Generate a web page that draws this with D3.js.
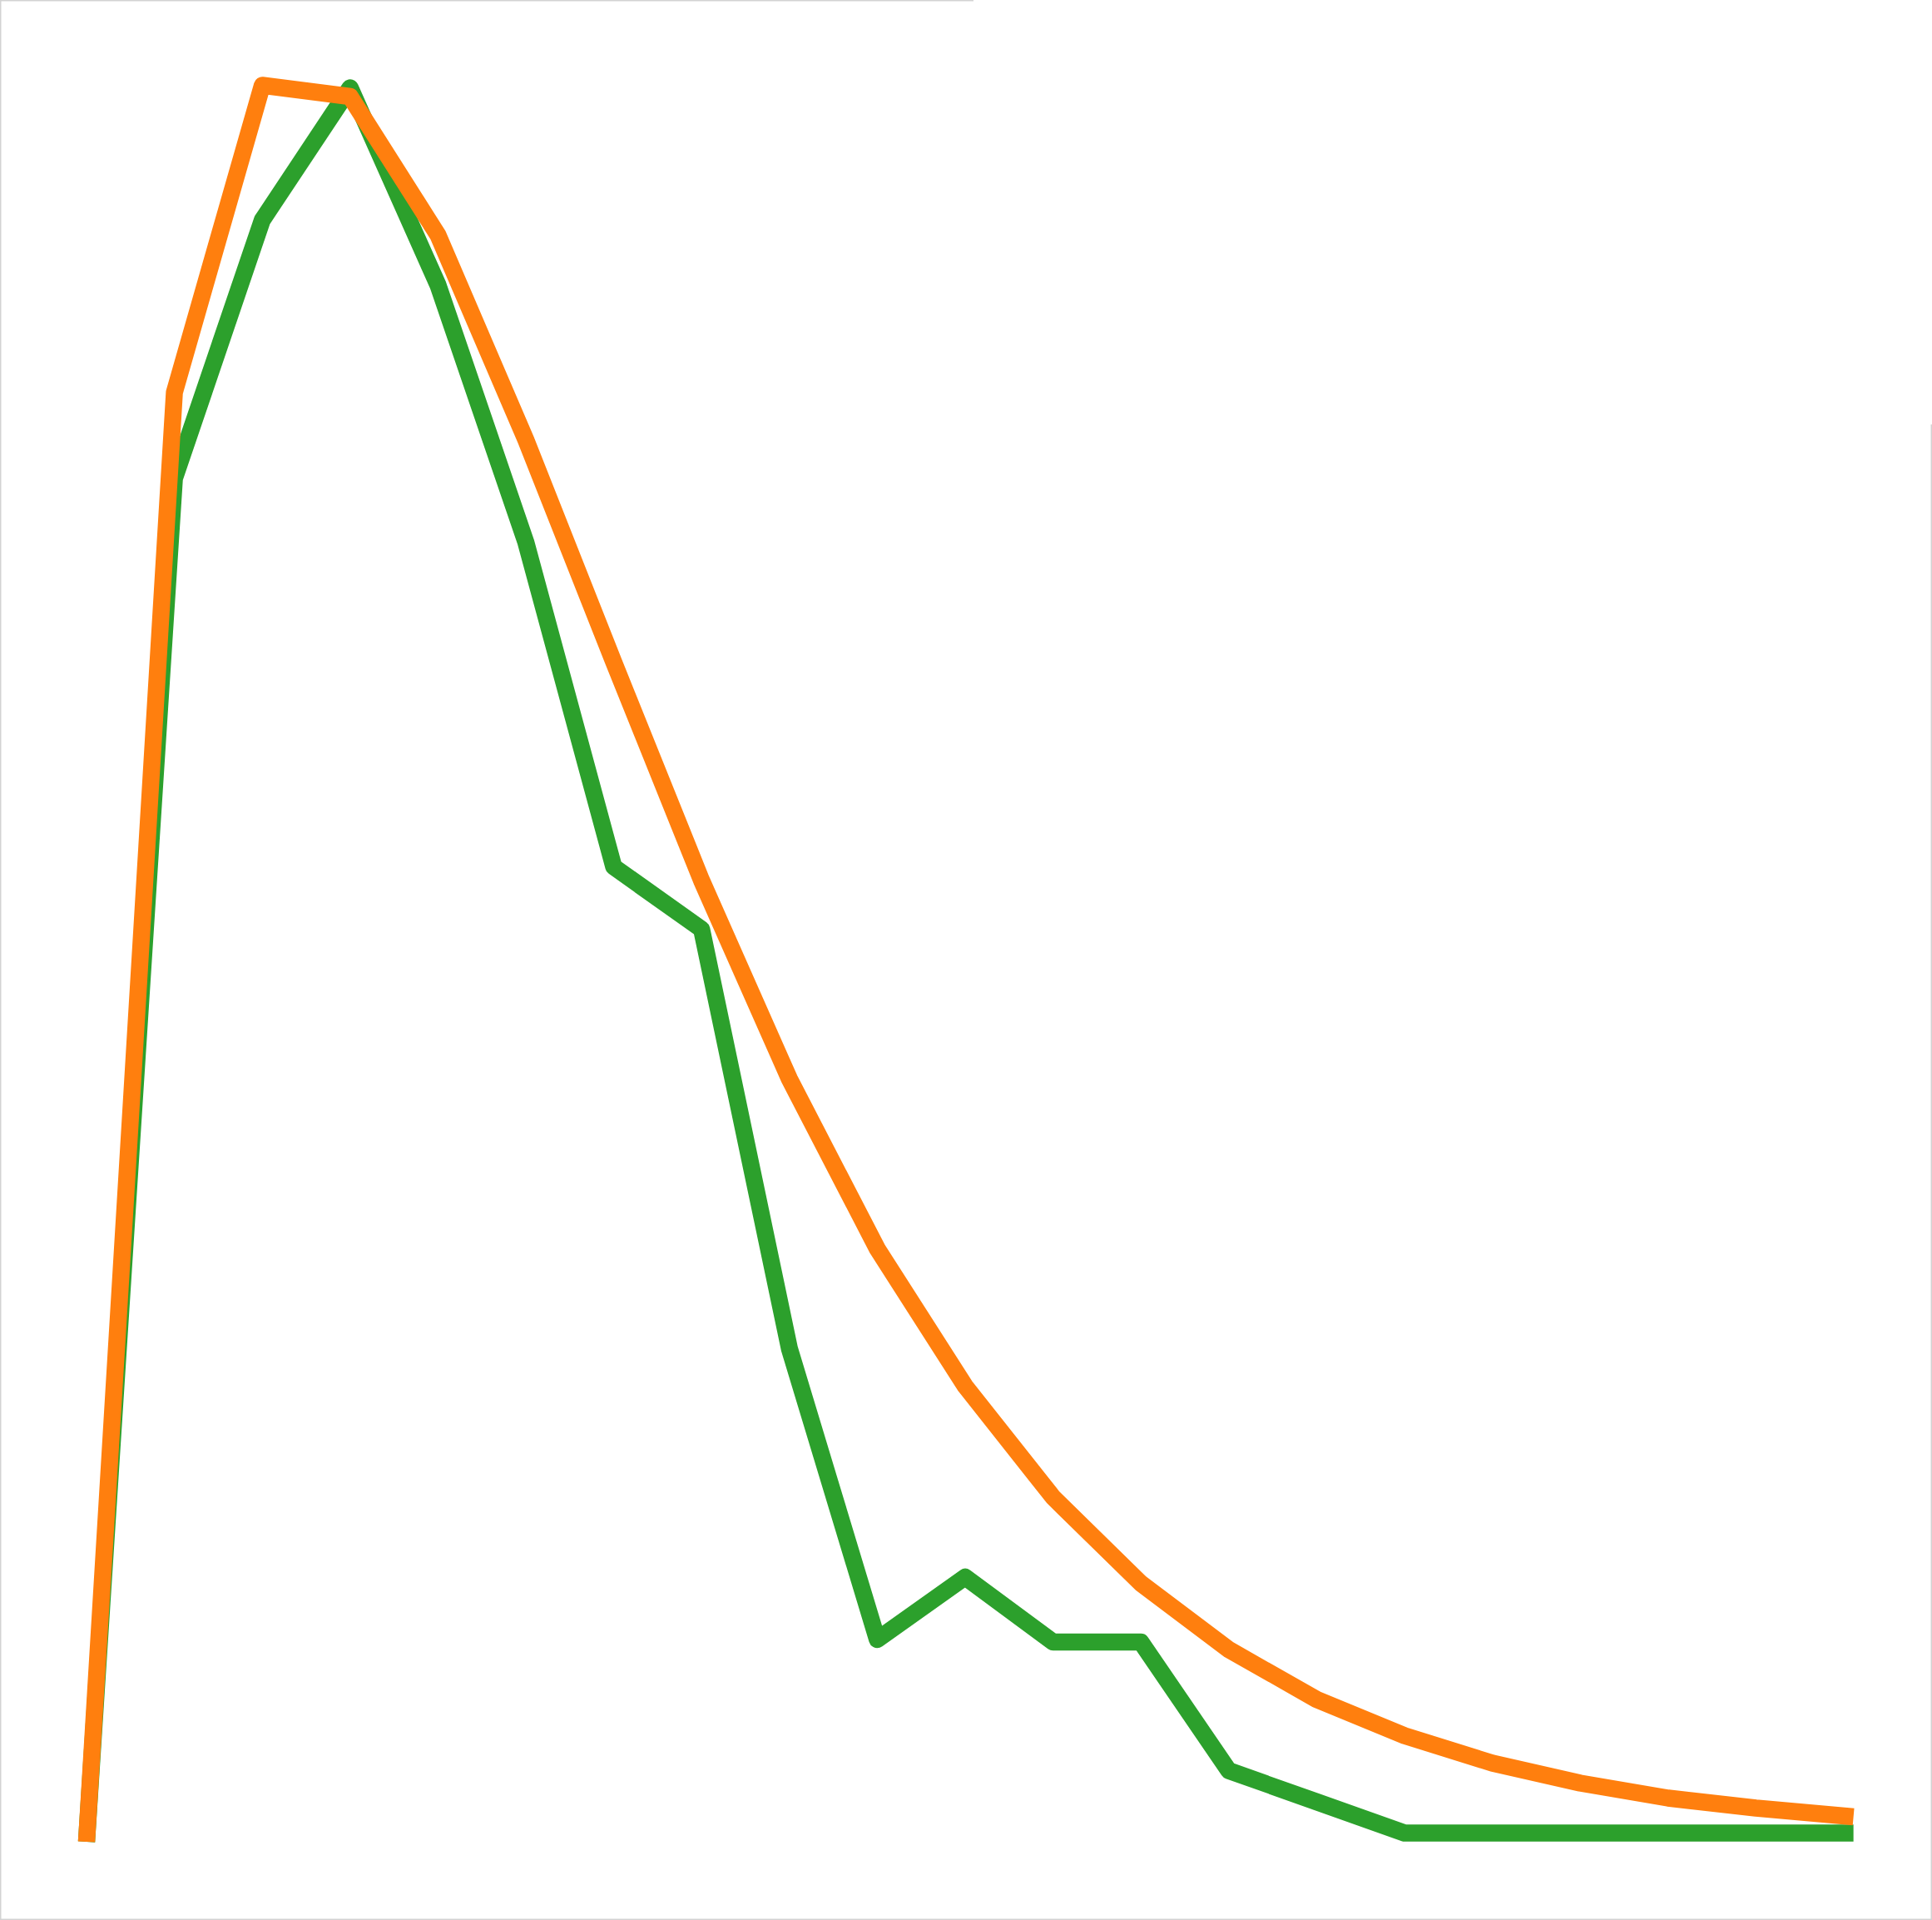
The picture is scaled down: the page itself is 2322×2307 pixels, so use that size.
<!DOCTYPE html>
<html>
<head>
<meta charset="utf-8">
<script src="https://cdn.jsdelivr.net/npm/d3@7"></script>
<style>
  body { margin: 0; background: #fff; }
  svg { display: block; }
</style>
</head>
<body>
<div id="chart"></div>
<script>
// bin positions along x (last bin sits a bit further out)
const bins = [0, 1, 2, 3, 4, 5, 6, 7, 8, 9, 10, 11, 12, 13, 14, 15, 16, 17, 18, 19, 20.11];

// series values (share per bin, %)
const orangeValues = [0, 11.61, 14.07, 13.98, 12.87, 11.23, 9.45, 7.70, 6.11, 4.75, 3.65,
  2.76, 2.07, 1.54, 1.14, 0.85, 0.63, 0.47, 0.35, 0.27, 0.20];
const greenValues = [0, 10.92, 12.99, 14.05, 12.47, 10.41, 7.81, 7.31, 3.95, 1.62, 2.12,
  1.60, 1.60, 0.57, 0.32, 0.07, 0.07, 0.07, 0.07, 0.07, 0.07];

const width = 2322;
const height = 2307;

const svg = d3.select('#chart')
  .append('svg')
  .attr('width', width)
  .attr('height', height);

const x = d3.scaleLinear()
  .domain([0, 20])
  .range([104, 2216]);

const y = d3.scaleLinear()
  .domain([0, 14])
  .range([2213, 113]);

// partial light frame
const frame = svg.append('g')
  .attr('stroke', '#d3d3d3')
  .attr('stroke-width', 1.5);
frame.append('line').attr('x1', 0.75).attr('y1', 0).attr('x2', 0.75).attr('y2', height);
frame.append('line').attr('x1', 0).attr('y1', height - 0.75).attr('x2', width).attr('y2', height - 0.75);
frame.append('line').attr('x1', 0).attr('y1', 0.75).attr('x2', 1170).attr('y2', 0.75);
frame.append('line').attr('x1', width - 0.75).attr('y1', 510).attr('x2', width - 0.75).attr('y2', height);

const line = d3.line()
  .x((d, i) => x(bins[i]))
  .y(d => y(d));

const series = [
  {values: greenValues, color: '#2ca02c'},
  {values: orangeValues, color: '#ff7f0e'}
];

svg.selectAll('path.series')
  .data(series)
  .join('path')
    .attr('class', 'series')
    .attr('d', d => line(d.values))
    .attr('fill', 'none')
    .attr('stroke', d => d.color)
    .attr('stroke-width', 20.5)
    .attr('stroke-linejoin', 'round')
    .attr('stroke-linecap', 'butt');
</script>
</body>
</html>
